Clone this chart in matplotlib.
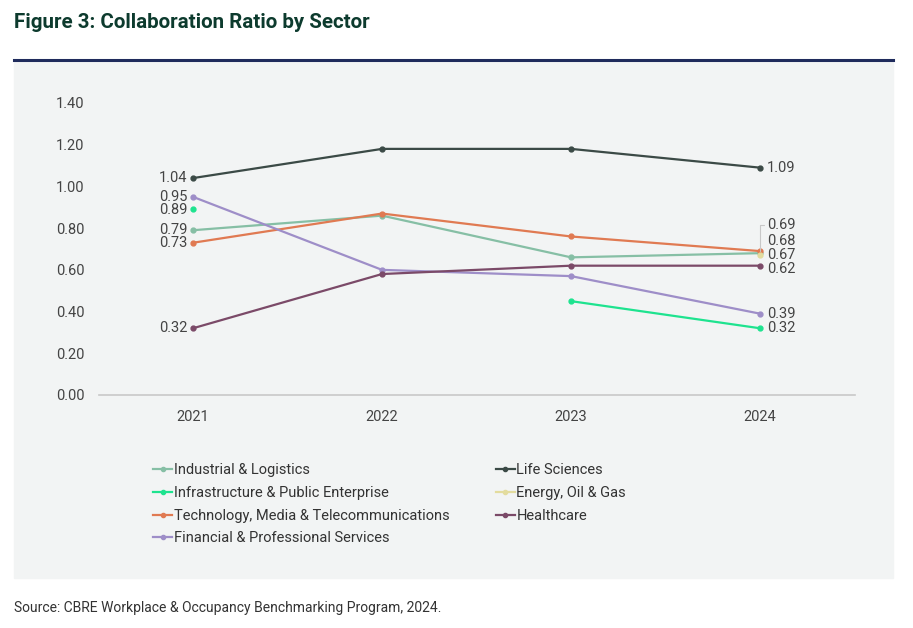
import numpy as np
import matplotlib.pyplot as plt
from matplotlib.lines import Line2D
from matplotlib.patches import Rectangle

years = ["2021", "2022", "2023", "2024"]
industrial = [0.79, 0.86, 0.66, 0.68]
infrastructure = [0.89, np.nan, 0.45, 0.32]
tmt = [0.73, 0.87, 0.76, 0.69]
financial = [0.95, 0.60, 0.57, 0.39]
life_sciences = [1.04, 1.18, 1.18, 1.09]
energy = [np.nan, np.nan, np.nan, 0.67]
healthcare = [0.32, 0.58, 0.62, 0.62]

series = [
    ("Industrial & Logistics", industrial, "#86bfa5"),
    ("Infrastructure & Public Enterprise", infrastructure, "#1ee38f"),
    ("Technology, Media & Telecommunications", tmt, "#e07a52"),
    ("Financial & Professional Services", financial, "#9e8ec8"),
    ("Life Sciences", life_sciences, "#3b4a46"),
    ("Energy, Oil & Gas", energy, "#e3dc9e"),
    ("Healthcare", healthcare, "#7b4a68"),
]

yticks = [0.0, 0.2, 0.4, 0.6, 0.8, 1.0, 1.2, 1.4]

# pixel offsets (dx, dy) for end labels, index matches series
left_offsets = [(-6, 0), (-6, -1), (-6, 0), (-6, 0), (-6, 0), None, (-6, 0)]
right_offsets = [(7, 12), (7, 0), (7, 21), (7, 0), (7, 0), (7, 0), (7, -3)]

plt.rcParams['font.family'] = ['Roboto', 'DejaVu Sans']

W, H = 913, 628
fig = plt.figure(figsize=(W / 100, H / 100), dpi=100)
fig.patch.set_facecolor("white")

# grey panel and navy rule
fig.patches.append(Rectangle((14 / W, 1 - 578 / H), 879 / W, 516 / H,
                             transform=fig.transFigure, color="#f2f4f4", zorder=-5))
fig.lines.append(Line2D([14 / W, 893 / W], [1 - 60 / H, 1 - 60 / H],
                        transform=fig.transFigure, color="#1f2b5c", lw=2.2))

fig.text(14 / W, 1 - 22 / H, "Figure 3: Collaboration Ratio by Sector",
         fontsize=14.8, fontweight="bold", color="#0d3b2e", va="center")
fig.text(14 / W, 1 - 608 / H,
         "Source: CBRE Workplace & Occupancy Benchmarking Program, 2024.",
         fontsize=10, color="#333333", va="center")

ax = fig.add_axes([98.5 / W, 1 - 395 / H, 756 / W, 292 / H])
ax.set_facecolor("none")
ax.set_zorder(2)
x = list(range(len(years)))

handles = []
for i, (name, vals, col) in enumerate(series):
    ax.plot(x, vals, color=col, lw=1.6, marker="o", markersize=3.5,
            clip_on=False, zorder=3)
    handles.append(Line2D([0], [0], color=col, lw=1.6, marker="o", markersize=3))

    if not np.isnan(vals[0]) and left_offsets[i] is not None:
        dx, dy = left_offsets[i]
        ax.annotate(f"{vals[0]:.2f}", (0, vals[0]), xytext=(dx, dy),
                    textcoords="offset pixels", ha="right", va="center",
                    fontsize=10.5, color="#444444")
    dx, dy = right_offsets[i]
    if i == 2:
        # leader line for the crowded 2024 label
        ax.annotate(f"{vals[3]:.2f}", (3, vals[3]), xytext=(dx, dy + 5),
                    textcoords="offset pixels", ha="left", va="center",
                    fontsize=10.5, color="#444444",
                    arrowprops=dict(arrowstyle="-", color="#c8c8c8", lw=0.8,
                                    shrinkA=0, shrinkB=0,
                                    connectionstyle="angle,angleA=0,angleB=90,rad=0"))
    else:
        ax.annotate(f"{vals[3]:.2f}", (3, vals[3]), xytext=(dx, dy),
                    textcoords="offset pixels", ha="left", va="center",
                    fontsize=10.5, color="#444444")

ax.set_xlim(-0.5, 3.5)
ax.set_ylim(0, 1.4)
ax.set_xticks(x)
ax.set_xticklabels(years)
ax.set_yticks(yticks)
ax.set_yticklabels([f"{t:.2f}" for t in yticks])
ax.tick_params(length=0, labelsize=10.5, colors="#444444")
ax.tick_params(axis="x", pad=11)
ax.tick_params(axis="y", pad=10)
for s in ["top", "right", "left"]:
    ax.spines[s].set_visible(False)
ax.spines["bottom"].set_color("#c8c8c8")
ax.spines["bottom"].set_linewidth(1.2)

fig.legend(handles, [s[0] for s in series], ncol=2,
           loc="upper left", bbox_to_anchor=(140 / W, 1 - 450 / H),
           frameon=False, fontsize=10.5, handlelength=1.3, handletextpad=0.1,
           columnspacing=3.2, labelspacing=0.6, labelcolor="#333333")

fig.savefig("out.png", dpi=100)
